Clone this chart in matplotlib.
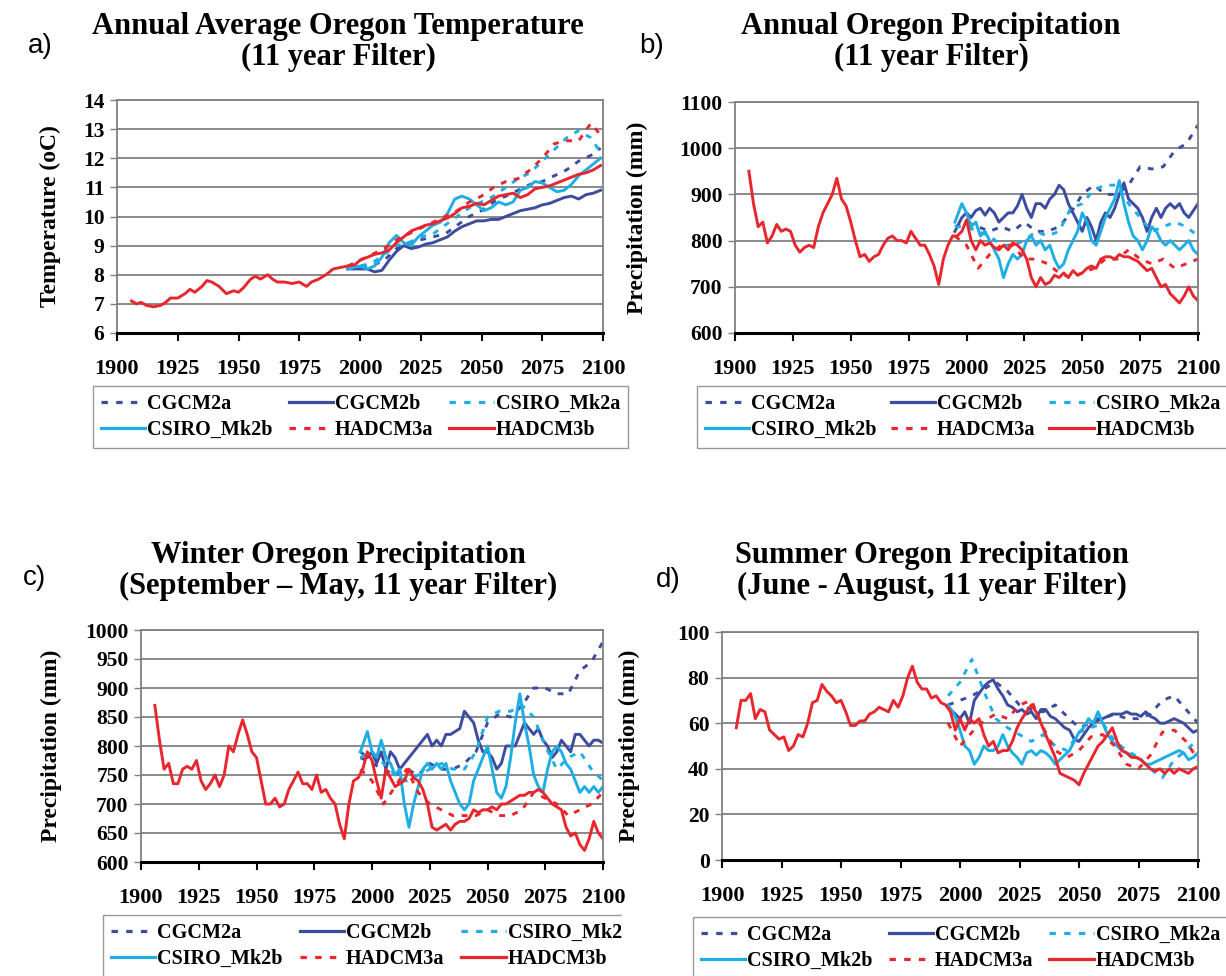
import matplotlib
matplotlib.use("Agg")
import matplotlib.pyplot as plt
from matplotlib.lines import Line2D
from matplotlib.patches import Rectangle

plt.rcParams['font.family'] = ['Liberation Serif', 'DejaVu Serif']
plt.rcParams['font.weight'] = 'bold'

W, H = 1226, 976

NAMES = ["CGCM2a", "CGCM2b", "CSIRO_Mk2a", "CSIRO_Mk2b", "HADCM3a", "HADCM3b"]
COLORS = ["#3d4c9e", "#3d4c9e", "#1eaee6", "#1eaee6", "#e8262e", "#e8262e"]
DASHED = [True, False, True, False, True, False]
DASH = (0, (2.0, 2.6))

# year grids
A_RED_YRS = [1906, 1908, 1910, 1912, 1915, 1918, 1920, 1922, 1925, 1928,
             1930, 1932, 1935, 1937, 1939, 1942, 1945, 1948, 1950, 1952,
             1955, 1957, 1959, 1962, 1964, 1966, 1969, 1972, 1975, 1978,
             1980, 1983, 1986, 1989, 1992, 1995, 1998] + list(range(2000, 2100, 3))
A_SOLID_YRS = [1995] + list(range(2000, 2100, 3))
A_DASH_YRS = [1995] + list(range(2000, 2096, 5)) + [2099]
RED_YRS = list(range(1906, 2101, 2))
SOLID_YRS = [1995, 1998] + list(range(2000, 2101, 2))
DASH_YRS = [1995] + list(range(2000, 2101, 5))

# a) annual temperature
a_hadcm3b = [7.1, 7.0, 7.05, 6.95, 6.9, 6.95, 7.05, 7.2, 7.2, 7.35,
             7.5, 7.4, 7.6, 7.8, 7.75, 7.6, 7.35, 7.45, 7.4, 7.55,
             7.85, 7.95, 7.85, 8.0, 7.85, 7.75, 7.75, 7.7, 7.75, 7.6,
             7.75, 7.85, 8.0, 8.2, 8.25, 8.3, 8.35,
             8.5, 8.6, 8.7, 8.75, 8.85, 9.1, 9.3, 9.5, 9.6, 9.7,
             9.75, 9.85, 9.95, 10.1, 10.3, 10.35, 10.45, 10.4, 10.55, 10.7,
             10.75, 10.8, 10.65, 10.75, 10.95, 11.0, 11.05, 11.15, 11.25, 11.35,
             11.45, 11.5, 11.6, 11.75]
a_cgcm2b = [8.2,
            8.2, 8.2, 8.1, 8.15, 8.5, 8.8, 9.0, 8.9, 8.95, 9.05,
            9.1, 9.2, 9.3, 9.5, 9.65, 9.75, 9.85, 9.85, 9.9, 9.9,
            10.0, 10.1, 10.2, 10.25, 10.3, 10.4, 10.45, 10.55, 10.65, 10.7,
            10.6, 10.75, 10.8, 10.9]
a_csiro_b = [8.2,
             8.3, 8.2, 8.3, 8.6, 9.1, 9.35, 9.1, 9.0, 9.3, 9.5,
             9.7, 9.8, 10.1, 10.6, 10.7, 10.6, 10.4, 10.2, 10.3, 10.5,
             10.4, 10.5, 10.9, 11.0, 11.2, 11.15, 11.0, 10.85, 10.9, 11.1,
             11.4, 11.6, 11.8, 12.0]
a_cgcm2a = [8.2, 8.3, 8.3, 8.5, 8.9, 9.1, 9.2, 9.3, 9.4, 9.7, 10.0,
            10.2, 10.5, 10.7, 10.9, 11.1, 11.2, 11.4, 11.6, 11.9, 12.1, 12.35]
a_csiro_a = [8.2, 8.3, 8.4, 8.7, 9.0, 9.1, 9.3, 9.4, 9.7, 10.0, 10.3,
             10.5, 10.7, 11.0, 11.3, 11.5, 11.9, 12.3, 12.7, 12.95, 12.7, 12.2]
a_hadcm3a = [8.3, 8.5, 8.7, 8.9, 9.2, 9.4, 9.6, 9.8, 10.0, 10.2, 10.5,
             10.7, 11.0, 11.2, 11.3, 11.6, 12.0, 12.5, 12.6, 12.6, 13.2, 12.8]

# b) annual precipitation
b_hadcm3b = [950, 880, 830, 840, 795, 810, 835, 820, 825, 820,
             790, 775, 785, 790, 785, 830, 860, 880, 900, 935,
             890, 875, 840, 800, 765, 770, 755, 765, 770, 790,
             805, 810, 800, 800, 795, 820, 805, 790, 790, 770,
             745, 705, 760, 790, 810, 810, 820, 845, 800, 780,
             800, 790, 795, 785, 780, 790, 780, 795, 790, 780,
             760, 720, 700, 720, 705, 710, 725, 720, 730, 720,
             735, 725, 730, 740, 745, 740, 760, 765, 765, 760,
             770, 765, 765, 760, 755, 745, 735, 740, 720, 700,
             705, 685, 675, 665, 680, 700, 680, 670]
b_cgcm2b = [820, 850,
            860, 850, 865, 870, 855, 870, 860, 840, 850, 860,
            860, 875, 900, 870, 850, 880, 880, 870, 890, 900,
            920, 910, 880, 860, 840, 820, 850, 830, 800, 840,
            860, 850, 870, 900, 925, 890, 880, 870, 850, 820,
            850, 870, 850, 870, 880, 870, 880, 860, 850, 865,
            880]
b_csiro_b = [840, 880,
             860, 830, 840, 810, 820, 800, 780, 760, 720, 750,
             770, 760, 770, 800, 810, 790, 800, 780, 790, 760,
             740, 750, 780, 800, 820, 860, 840, 800, 790, 820,
             850, 870, 890, 930, 880, 840, 810, 800, 780, 800,
             830, 820, 800, 790, 800, 790, 780, 790, 800, 780,
             770]
b_cgcm2a = [830, 840, 830, 820, 830, 820, 840, 820, 820, 830, 860,
            900, 920, 900, 900, 920, 960, 955, 960, 995, 1010, 1050]
b_csiro_a = [830, 830, 820, 810, 790, 790, 800, 820, 810, 820, 870,
             880, 910, 920, 920, 880, 850, 820, 830, 840, 830, 810]
b_hadcm3a = [810, 790, 740, 770, 790, 790, 760, 760, 750, 730, 720,
             730, 740, 760, 760, 780, 760, 750, 760, 740, 750, 760]

# c) winter precipitation
c_hadcm3b = [870, 810, 760, 770, 735, 735, 760, 765, 760, 775,
             740, 725, 735, 750, 730, 750, 800, 790, 820, 845,
             820, 790, 780, 740, 700, 700, 710, 695, 700, 725,
             740, 755, 735, 735, 725, 750, 720, 725, 710, 700,
             665, 640, 700, 740, 745, 760, 790, 775, 740, 710,
             760, 745, 730, 735, 740, 760, 745, 740, 725, 700,
             660, 655, 660, 665, 655, 665, 670, 670, 675, 690,
             685, 690, 690, 695, 690, 700, 700, 705, 710, 715,
             715, 720, 720, 725, 720, 710, 700, 695, 690, 660,
             645, 650, 630, 620, 640, 670, 650, 640]
c_cgcm2b = [790, 780,
            790, 770, 790, 760, 790, 780, 760, 770, 780, 790,
            800, 810, 820, 800, 810, 800, 820, 820, 825, 830,
            860, 850, 840, 810, 790, 790, 780, 760, 770, 800,
            800, 800, 820, 840, 830, 820, 830, 810, 800, 780,
            790, 810, 800, 790, 820, 820, 810, 800, 810, 810,
            805]
c_csiro_b = [790, 825,
             790, 780, 810, 780, 770, 750, 760, 700, 660, 700,
             730, 760, 770, 760, 770, 760, 770, 740, 720, 700,
             690, 700, 740, 760, 780, 800, 760, 720, 710, 730,
             780, 840, 890, 840, 800, 750, 730, 720, 760, 790,
             800, 790, 770, 760, 740, 720, 730, 720, 730, 720,
             730]
c_cgcm2a = [780, 770, 760, 750, 760, 750, 770, 760, 760, 770, 790,
            840, 855, 850, 870, 900, 900, 890, 890, 930, 945, 980]
c_csiro_a = [780, 790, 770, 750, 740, 750, 760, 770, 760, 760, 790,
             850, 860, 860, 870, 850, 800, 760, 780, 790, 760, 740]
c_hadcm3a = [760, 740, 700, 730, 760, 720, 700, 690, 680, 680, 680,
             690, 680, 680, 690, 720, 710, 700, 680, 690, 700, 720]

# d) summer precipitation
d_hadcm3b = [58, 70, 70, 73, 62, 66, 65, 57, 55, 53,
             54, 48, 50, 55, 54, 60, 69, 70, 77, 74,
             72, 69, 70, 65, 59, 59, 61, 61, 64, 65,
             67, 66, 65, 70, 67, 72, 80, 85, 78, 75,
             75, 71, 72, 69, 68, 65, 57, 62, 57, 62,
             60, 62, 55, 50, 52, 47, 48, 48, 52, 58,
             62, 65, 68, 65, 60, 55, 50, 45, 38, 37,
             36, 35, 33, 38, 42, 46, 50, 52, 55, 58,
             52, 48, 47, 45, 45, 44, 42, 40, 39, 40,
             38, 40, 38, 40, 39, 38, 40, 41]
d_cgcm2b = [67, 64,
            62, 65, 60, 70, 73, 76, 78, 79, 75, 72,
            68, 67, 65, 66, 64, 65, 62, 66, 66, 63,
            62, 60, 58, 57, 53, 52, 55, 58, 60, 62,
            62, 63, 64, 64, 64, 65, 64, 64, 63, 65,
            63, 62, 60, 60, 61, 62, 61, 60, 58, 56,
            57]
d_csiro_b = [68, 63,
             57, 50, 48, 42, 45, 50, 48, 48, 50, 55,
             50, 47, 45, 42, 47, 48, 46, 48, 47, 45,
             42, 44, 46, 48, 52, 56, 58, 62, 60, 65,
             60, 55, 52, 50, 48, 47, 46, 45, 44, 42,
             42, 43, 44, 45, 46, 47, 48, 47, 44, 45,
             47]
d_cgcm2a = [68, 70, 72, 75, 78, 74, 68, 66, 65, 68, 63,
            58, 60, 62, 64, 62, 62, 64, 70, 72, 66, 60]
d_csiro_a = [72, 78, 88, 74, 62, 58, 55, 52, 55, 50, 48,
             56, 58, 60, 52, 48, 45, 40, 36, 44, 48, 53]
d_hadcm3a = [60, 50, 56, 61, 64, 62, 68, 70, 58, 48, 45,
             48, 54, 55, 50, 42, 40, 46, 56, 57, 52, 44]


def px_rect(left, right, top, bottom):
    return [left / W, 1 - bottom / H, (right - left) / W, (bottom - top) / H]


def draw_panel(fig, rect, series, ylim, ystep, ylabel, ylab_x):
    ax = fig.add_axes(rect)
    for (yrs, vals), color, dashed in zip(series, COLORS, DASHED):
        ls = DASH if dashed else "-"
        ax.plot(yrs, vals, color=color, lw=2.1, ls=ls)
    ax.set_xlim(1900, 2100)
    ax.set_ylim(*ylim)
    ax.set_xticks(range(1900, 2101, 25))
    ax.set_yticks(range(ylim[0], ylim[1] + 1, ystep))
    ax.yaxis.grid(True, color="#808080", lw=1.3)
    ax.set_axisbelow(True)
    for s in ["top", "right", "left"]:
        ax.spines[s].set_color("#808080")
        ax.spines[s].set_linewidth(1.3)
    ax.spines["bottom"].set_color("black")
    ax.spines["bottom"].set_linewidth(2.2)
    ax.tick_params(axis="x", direction="out", length=6, width=1.5,
                   labelsize=16, pad=13)
    ax.tick_params(axis="y", direction="out", length=5, width=1.0,
                   color="#808080", labelsize=15.5, pad=4)
    ax.set_ylabel(ylabel, fontsize=17, fontweight="bold")
    ax.yaxis.set_label_coords(ylab_x, 0.5)
    return ax


fig = plt.figure(figsize=(W / 100, H / 100), dpi=100)

panels = [
    (px_rect(117, 603, 100, 333),
     [(A_DASH_YRS, a_cgcm2a), (A_SOLID_YRS, a_cgcm2b), (A_DASH_YRS, a_csiro_a),
      (A_SOLID_YRS, a_csiro_b), (A_DASH_YRS, a_hadcm3a), (A_RED_YRS, a_hadcm3b)],
     (6, 14), 1, "Temperature (oC)", -0.115),
    (px_rect(735, 1198, 102, 333),
     [(DASH_YRS, b_cgcm2a), (SOLID_YRS, b_cgcm2b), (DASH_YRS, b_csiro_a),
      (SOLID_YRS, b_csiro_b), (DASH_YRS, b_hadcm3a), (RED_YRS, b_hadcm3b)],
     (600, 1100), 100, "Precipitation (mm)", -0.188),
    (px_rect(141, 603, 630, 862),
     [(DASH_YRS, c_cgcm2a), (SOLID_YRS, c_cgcm2b), (DASH_YRS, c_csiro_a),
      (SOLID_YRS, c_csiro_b), (DASH_YRS, c_hadcm3a), (RED_YRS, c_hadcm3b)],
     (600, 1000), 50, "Precipitation (mm)", -0.171),
    (px_rect(722, 1198, 632, 860),
     [(DASH_YRS, d_cgcm2a), (SOLID_YRS, d_cgcm2b), (DASH_YRS, d_csiro_a),
      (SOLID_YRS, d_csiro_b), (DASH_YRS, d_hadcm3a), (RED_YRS, d_hadcm3b)],
     (0, 100), 20, "Precipitation (mm)", -0.172),
]
for rect, series, ylim, ystep, ylabel, lx in panels:
    draw_panel(fig, rect, series, ylim, ystep, ylabel, lx)

# legends (row-wise order like the original, matplotlib fills by column)
handles = [Line2D([], [], color=c, lw=2.3, ls=DASH if d else "-")
           for c, d in zip(COLORS, DASHED)]
order = [0, 3, 1, 4, 2, 5]
leg_boxes = [(93, 628, 386, 447), (697, 1228, 386, 448),
             (103, 640, 915, 978), (693, 1228, 917, 980)]
for x0, x1, y0, y1 in leg_boxes:
    fig.legend([handles[i] for i in order], [NAMES[i] for i in order],
               loc="upper left", ncol=3, mode="expand",
               bbox_to_anchor=(x0 / W, 1 - y1 / H, (x1 - x0) / W, (y1 - y0) / H),
               bbox_transform=fig.transFigure, fontsize=14.5, frameon=True,
               fancybox=False, edgecolor="#808080", handlelength=2.2,
               handletextpad=0.1, labelspacing=0.3, borderpad=0.4,
               borderaxespad=0, columnspacing=0.3)
# the third legend is cut off on its right side in the original
fig.add_artist(Rectangle((622 / W, 0), (690 - 622) / W, 64 / H,
                         transform=fig.transFigure, color="white", zorder=10))

titles = [
    (338, 42, "Annual Average Oregon Temperature\n(11 year Filter)"),
    (931, 42, "Annual Oregon Precipitation\n(11 year Filter)"),
    (338, 571, "Winter Oregon Precipitation\n(September \u2013 May, 11 year Filter)"),
    (932, 571, "Summer Oregon Precipitation\n(June - August, 11 year Filter)"),
]
for x, y, t in titles:
    fig.text(x / W, 1 - y / H, t, ha="center", va="center", fontsize=22,
             fontweight="bold", linespacing=1.05)

for x, y, t in [(40, 46, "a)"), (652, 46, "b)"), (35, 578, "c)"), (668, 580, "d)")]:
    fig.text(x / W, 1 - y / H, t, ha="center", va="center", fontsize=20,
             fontweight="normal", family=["Liberation Sans", "DejaVu Sans"])

fig.savefig("out.png", dpi=100)
